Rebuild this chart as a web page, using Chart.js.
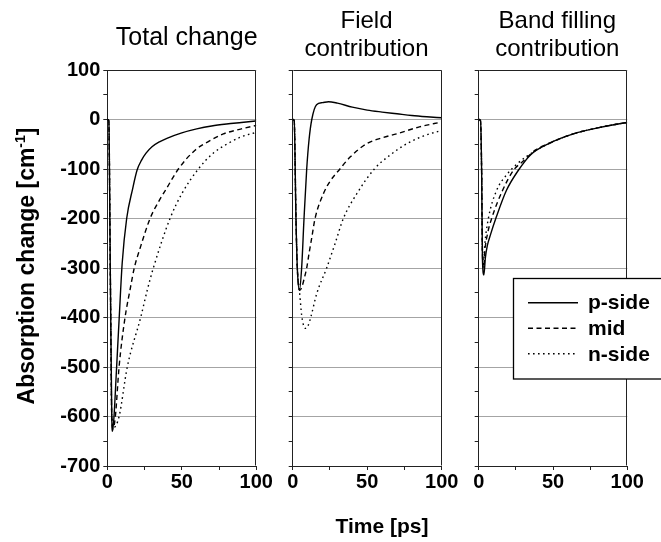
<!DOCTYPE html>
<html><head><meta charset="utf-8">
<script src="https://cdn.jsdelivr.net/npm/chart.js@4.4.1/dist/chart.umd.min.js"></script>
<style>
html,body{margin:0;padding:0;background:#fff;}
#wrap{position:relative;width:661px;height:542px;overflow:hidden;background:#fff;}
canvas{position:absolute;left:0;top:0;}
</style></head><body>
<div id="wrap">
<canvas id="c1" width="661" height="542"></canvas>
<canvas id="c2" width="661" height="542"></canvas>
<canvas id="c3" width="661" height="542"></canvas>
</div>
<script>
// ---------- data ----------
const seriesNames = ["p-side", "mid", "n-side"];
const panelTitles = [["Total change"], ["Field", "contribution"], ["Band filling", "contribution"]];
const xTickLabels = [0, 50, 100];
const yTickLabels = [100, 0, -100, -200, -300, -400, -500, -600, -700];

// Total change
const tTotalP = [0, 1, 2, 3, 3.5, 4.5, 6, 8, 10, 13, 17, 20, 23, 26, 30, 35, 40, 50, 60, 70, 80, 90, 100];
const yTotalP = [0, -2, -300, -600, -630, -600, -515, -400, -290, -200, -140, -102, -82, -68, -55, -45, -38, -27, -19, -13, -9, -6, -3];
const tTotalM = [0, 1, 2, 3, 3.8, 5.4, 7.9, 11.9, 15.2, 18.1, 22, 28.7, 35, 40, 47.7, 58.9, 70, 77.9, 90, 100];
const yTotalM = [0, -2, -300, -600, -625, -600, -500, -400, -345, -300, -260, -200, -163, -138, -100, -62, -41, -29, -19, -12];
const tTotalN = [0, 1, 2, 3, 4.5, 7.9, 13.4, 22.4, 26.8, 30.9, 42.1, 50, 61.1, 71.1, 80, 90, 100];
const yTotalN = [0, -2, -300, -600, -622, -600, -500, -400, -345, -300, -200, -150, -100, -68, -50, -35, -26];

// Field contribution
const tFieldP = [0, 1, 2.2, 3.1, 4.5, 6, 7.6, 9.4, 11, 12.8, 16, 20, 24, 30, 40, 50, 60, 70, 80, 90, 100];
const yFieldP = [0, -2, -200, -300, -345, -300, -200, -100, -40, 0, 30, 34, 36, 33, 25, 19, 15, 11.5, 8, 5.5, 3.5];
const tFieldM = [0, 1, 2.2, 3.1, 4.8, 6.5, 8, 9.4, 11, 13, 15, 20.6, 25, 31.7, 38.5, 49.6, 60, 69.7, 85, 100];
const yFieldM = [0, -2, -200, -300, -345, -335, -318, -300, -270, -235, -200, -150, -125, -100, -76, -49, -37, -29, -15, -5];
const tFieldN = [0, 1, 2.2, 3.1, 4.5, 6, 7.5, 8.9, 10.5, 12.1, 16.1, 22.8, 28.4, 34, 43, 54.8, 65.3, 76.5, 88, 100];
const yFieldN = [0, -2, -200, -300, -345, -395, -418, -422, -415, -400, -352, -300, -251, -200, -150, -100, -72, -49, -33, -22];

// Band filling contribution
const tBandP = [0, 1.2, 2, 2.5, 3.5, 4.5, 5.8, 8.1, 11.5, 18.7, 26.6, 35, 46.8, 63.7, 80, 90, 100];
const yBandP = [0, -2, -110, -280, -314, -279, -255, -231, -200, -143, -103, -71, -49, -29, -17, -11, -6];
const tBandM = [0, 1.2, 2, 2.5, 3.4, 4.2, 6, 8.7, 16.1, 23.3, 30, 38, 46.8, 63.7, 80, 90, 100];
const yBandM = [0, -2, -110, -270, -300, -264, -230, -200, -143, -103, -84, -62, -49, -29, -17, -11, -6];
const tBandN = [0, 1.2, 2, 2.5, 3.3, 4, 6.5, 12.1, 19.3, 25, 32, 40, 46.8, 63.7, 80, 90, 100];
const yBandN = [0, -2, -110, -260, -285, -255, -200, -143, -110, -92, -75, -60, -49, -29, -17, -11, -6];

// ---------- styling / layout ----------
const FONT = '"Liberation Sans", Arial, Helvetica, sans-serif';
const W = 661, H = 542;
const YW = 60, XH = 40;
const panels = [
  {left: 107.3, right: 256.3},
  {left: 292.7, right: 441.7},
  {left: 478.7, right: 627.3}
];
const TOP = 70, BOTTOM = 466;
const styles = [
  {borderDash: []},
  {borderDash: [5, 3.5]},
  {borderDash: [1.6, 3.4]}
];

function pts(t, y) { return t.map((v, i) => ({x: v, y: y[i]})); }

function makeDatasets(list) {
  return list.map((d, i) => ({
    label: seriesNames[i],
    data: pts(d[0], d[1]),
    borderColor: '#000',
    borderWidth: 1.4,
    borderDash: styles[i].borderDash,
    pointRadius: 0,
    fill: false,
    cubicInterpolationMode: 'monotone'
  }));
}

function makeScales(showY) {
  return {
    x: {
      type: 'linear', min: 0, max: 100,
      ticks: {
        stepSize: 25, autoSkip: false, maxRotation: 0, minRotation: 0, padding: 0,
        color: '#000', font: {family: FONT, size: 20, weight: 'bold'},
        callback: v => xTickLabels.includes(v) ? String(v) : ''
      },
      grid: {drawOnChartArea: false, tickColor: '#222', tickLength: 4},
      border: {display: true, color: '#222', width: 1},
      afterFit(s) { s.height = XH; s.paddingLeft = 0; s.paddingRight = 0; }
    },
    y: {
      type: 'linear', min: -700, max: 100,
      ticks: {
        display: showY, stepSize: 50, autoSkip: false, padding: 3,
        color: '#000', font: {family: FONT, size: 20, weight: 'bold'},
        callback: v => yTickLabels.includes(v) ? String(v) : ''
      },
      grid: {
        color: c => (c.tick && yTickLabels.includes(c.tick.value)) ? '#a4a4a4' : 'rgba(0,0,0,0)',
        tickColor: '#222', tickLength: 4
      },
      border: {display: true, color: '#222', width: 1},
      afterFit(s) { s.width = YW; s.paddingTop = 0; s.paddingBottom = 0; }
    }
  };
}

const panelPlugin = {
  id: 'panelDecor',
  afterDraw(chart, args, opts) {
    const {ctx, chartArea: a} = chart;
    ctx.save();
    // frame (top and right edges)
    ctx.strokeStyle = '#222';
    ctx.lineWidth = 1;
    const l = Math.round(a.left) + 0.5, t = Math.round(a.top) + 0.5;
    const r = Math.round(a.right) - 0.5, b = Math.round(a.bottom) - 0.5;
    ctx.beginPath();
    ctx.moveTo(l, t); ctx.lineTo(r, t); ctx.lineTo(r, b);
    ctx.stroke();
    // panel title
    ctx.fillStyle = '#000';
    ctx.font = opts.titleSize + 'px ' + FONT;
    ctx.textAlign = 'center';
    ctx.textBaseline = 'alphabetic';
    opts.lines.forEach((s, i) => ctx.fillText(s, opts.cx, opts.baselines[i]));

    if (opts.axisTitles) {
      ctx.font = 'bold 21px ' + FONT;
      ctx.textAlign = 'center';
      ctx.fillText('Time [ps]', 382, 533);
      // rotated y title with superscript
      const main1 = 'Absorption change [cm', sup = '-1', main2 = ']';
      const big = 'bold 23px ' + FONT, small = 'bold 14px ' + FONT;
      ctx.font = big;
      const w1 = ctx.measureText(main1).width, w3 = ctx.measureText(main2).width;
      ctx.font = small;
      const w2 = ctx.measureText(sup).width;
      const total = w1 + w2 + w3;
      ctx.translate(34, 266);
      ctx.rotate(-Math.PI / 2);
      ctx.textAlign = 'left';
      let x = -total / 2;
      ctx.font = big;
      ctx.fillText(main1, x, 0); x += w1;
      ctx.font = small;
      ctx.fillText(sup, x, -9); x += w2;
      ctx.font = big;
      ctx.fillText(main2, x, 0);
      ctx.setTransform(1, 0, 0, 1, 0, 0);
    }

    if (opts.legend) {
      const bx = 513, by = 278.5, bw = 170, bh = 100.5;
      ctx.fillStyle = '#fff';
      ctx.fillRect(bx, by, bw, bh);
      ctx.strokeStyle = '#000';
      ctx.lineWidth = 1.3;
      ctx.strokeRect(bx + 0.5, by, bw, bh);
      const rows = [302.7, 328.2, 353.8];
      chart.data.datasets.forEach((ds, i) => {
        ctx.strokeStyle = '#000';
        ctx.lineWidth = 1.4;
        ctx.setLineDash(ds.borderDash || []);
        ctx.beginPath();
        ctx.moveTo(528, rows[i]); ctx.lineTo(578, rows[i]);
        ctx.stroke();
        ctx.setLineDash([]);
        ctx.fillStyle = '#000';
        ctx.font = 'bold 21px ' + FONT;
        ctx.textAlign = 'left';
        ctx.textBaseline = 'middle';
        ctx.fillText(ds.label, 588, rows[i] + 1);
      });
    }
    ctx.restore();
  }
};

const panelData = [
  [[tTotalP, yTotalP], [tTotalM, yTotalM], [tTotalN, yTotalN]],
  [[tFieldP, yFieldP], [tFieldM, yFieldM], [tFieldN, yFieldN]],
  [[tBandP, yBandP], [tBandM, yBandM], [tBandN, yBandN]]
];
const titleOpts = [
  {cx: 186.7, baselines: [45], size: 25},
  {cx: 366.5, baselines: [28, 55.5], size: 24},
  {cx: 557.3, baselines: [28, 55.5], size: 24}
];

['c1', 'c2', 'c3'].forEach((id, k) => {
  const p = panels[k];
  new Chart(document.getElementById(id), {
    type: 'line',
    data: {datasets: makeDatasets(panelData[k])},
    options: {
      responsive: false,
      animation: false,
      events: [],
      layout: {padding: {left: p.left - YW, right: W - p.right, top: TOP, bottom: H - BOTTOM - XH}},
      scales: makeScales(k === 0),
      plugins: {
        legend: {display: false},
        tooltip: {enabled: false},
        panelDecor: {
          lines: panelTitles[k], cx: titleOpts[k].cx, baselines: titleOpts[k].baselines,
          titleSize: titleOpts[k].size, axisTitles: k === 0, legend: k === 2
        }
      }
    },
    plugins: [panelPlugin]
  });
});
</script>
</body></html>
